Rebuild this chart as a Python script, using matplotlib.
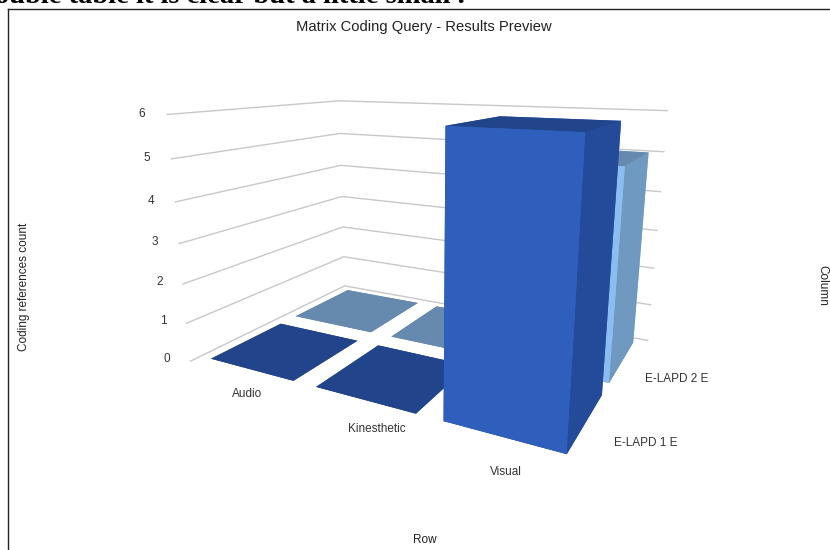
import matplotlib
matplotlib.use("Agg")
import matplotlib.pyplot as plt
from matplotlib.lines import Line2D

rows = ["Audio", "Kinesthetic", "Visual"]
columns = ["E-LAPD 1 E", "E-LAPD 2 E"]
counts_1e = [0, 0, 6]
counts_2e = [0, 0, 5]
z_ticks = [0, 1, 2, 3, 4, 5, 6]

# face order for bar3d is bottom, top, front, back, left, right
colors_1e = ["#21448a", "#21448a", "#2f5fbc", "#2f5fbc", "#244a9a", "#244a9a"]
colors_2e = ["#6689ae", "#6689ae", "#8bbdf0", "#8bbdf0", "#7099c2", "#7099c2"]

plt.rcParams["font.family"] = ["Liberation Sans", "DejaVu Sans"]

fig = plt.figure(figsize=(8.3, 5.5), dpi=100)
W, H = 830, 550

side = 535
cx, cy = 420, 244
ax = fig.add_axes([(cx - side / 2) / W, (H - cy - side / 2) / H, side / W, side / H],
                  projection="3d")
ax.computed_zorder = False
ax.set_axis_off()
ax.set_proj_type("persp", focal_length=0.234)
ax.view_init(elev=14.3, azim=-62)
ax.set_box_aspect((0.60, 0.41, 0.371), zoom=0.978)
ax.set_xlim(0, 3, view_margin=0)
ax.set_ylim(0, 2, view_margin=0)
ax.set_zlim(0, 6, view_margin=0)

# grid on the two back walls
for z in z_ticks:
    ax.plot([0, 0, 3], [0, 2, 2], [z, z, z], color="#c8c8c8", lw=1.0, zorder=1)
    ax.text(-0.19, -0.05, z, str(z), fontsize=8.5, color="#333333", ha="center", va="center",
            zorder=10)

pad = 0.105
size = 0.80
# back series first so the front one covers it
for y0, vals, cols in [(1, counts_2e, colors_2e), (0, counts_1e, colors_1e)]:
    for i, v in enumerate(vals):
        ax.bar3d(i + pad, y0 + pad, 0, size, size, v, color=cols, shade=False,
                 zorder=2 + y0 * -0.1 + 1 + i if v > 0 else 2, edgecolor="none")

# row and column labels
row_label_x = [0.75, 1.78, 2.66]
row_label_y = [-0.19, -0.17, -0.22]
col_label_y = [0.35, 1.28]
for i, r in enumerate(rows):
    ax.text(row_label_x[i], row_label_y[i], 0, r, fontsize=8.5, color="#333333", ha="center",
            va="center", zorder=10)
for j, c in enumerate(columns):
    ax.text(3.12, col_label_y[j], 0, c, fontsize=8.5, color="#333333", ha="left", va="center",
            zorder=10)

fig.text(424 / W, 1 - 27 / H, "Matrix Coding Query - Results Preview", fontsize=10.6,
         color="#222222", ha="center", va="center")
fig.text(425 / W, 1 - 540 / H, "Row", fontsize=8.5, color="#222222", ha="center", va="center")
fig.text(24.5 / W, 1 - 287 / H, "Coding references count", fontsize=8.5, color="#222222",
         rotation=90, ha="center", va="center")
fig.text(822 / W, 1 - 285 / H, "Column", fontsize=8.5, color="#222222", rotation=-90,
         ha="center", va="center")

# page text and frame around the chart
fig.text(465 / W, 1 - 3 / H, "double table it is clear but a little small .", fontsize=20.5,
         family="Liberation Serif", weight="bold", color="black", ha="right", va="baseline")
fig.add_artist(Line2D([8 / W, 8 / W], [0, 1 - 8.5 / H], color="#222222", lw=1))
fig.add_artist(Line2D([8 / W, 1], [1 - 8.5 / H, 1 - 8.5 / H], color="#222222", lw=1))

fig.savefig("out.png", dpi=100)
